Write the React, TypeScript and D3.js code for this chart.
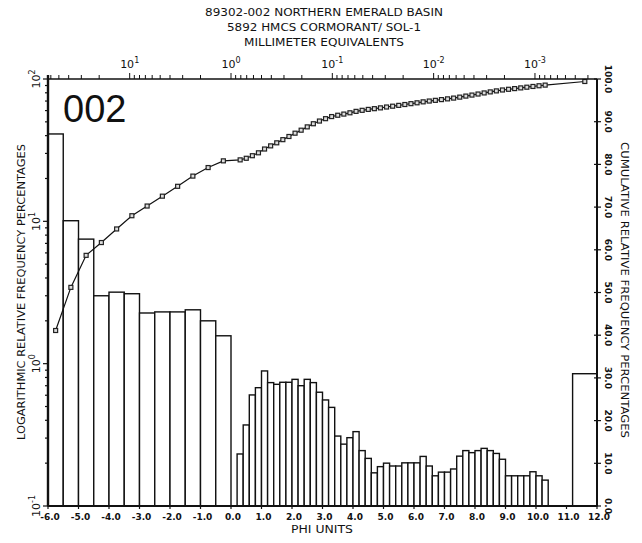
import { useEffect, useRef } from "react";
import * as d3 from "d3";

// grain size classes (phi) and weight percentages
const coarseLower = [-6.0, -5.5, -5.0, -4.5, -4.0, -3.5, -3.0, -2.5, -2.0, -1.5, -1.0, -0.5];
const coarseFreq = [41.1, 10.1, 7.5, 3.0, 3.18, 3.1, 2.27, 2.31, 2.31, 2.39, 2.0, 1.57];

const fineFreq = [
    0.232, 0.371, 0.603, 0.678, 0.889, 0.736, 0.716, 0.74, 0.74, 0.776,
    0.7, 0.776, 0.736, 0.63, 0.556, 0.493, 0.31, 0.272, 0.302, 0.333,
    0.245, 0.216, 0.171, 0.189, 0.2, 0.191, 0.191, 0.201, 0.201, 0.201,
    0.223, 0.191, 0.163, 0.173, 0.173, 0.182, 0.224, 0.245, 0.237, 0.245,
    0.254, 0.245, 0.234, 0.213, 0.163, 0.163, 0.163, 0.163, 0.174, 0.163,
    0.152,
];
const fineStart = 0.2;
const fineWidth = 0.2;

const clayBin = [11.2, 12.0];
const clayFreq = 0.85;

const phiTicks = [-6, -5, -4, -3, -2, -1, 0, 1, 2, 3, 4, 5, 6, 7, 8, 9, 10, 11, 12];
const logDecades = [0.1, 1, 10, 100];
const cumTicks = [0, 10, 20, 30, 40, 50, 60, 70, 80, 90, 100];
const mmDecades = [10, 1, 0.1, 0.01, 0.001];

const titleLines = [
    "89302-002 NORTHERN EMERALD BASIN",
    "5892 HMCS CORMORANT/ SOL-1",
    "MILLIMETER EQUIVALENTS",
];

const W = 642;
const H = 543;
const plotFont = "'DejaVu Sans', sans-serif";

function App() {
    const svgRef = useRef<SVGSVGElement>(null);

    useEffect(() => {
        const svg = d3.select(svgRef.current);
        svg.selectAll("*").remove();

        const margin = { top: 79, right: 45, bottom: 37, left: 48 };
        const x0 = margin.left;
        const x1 = W - margin.right;
        const yTop = margin.top;
        const yBot = H - margin.bottom;

        const x = d3.scaleLinear().domain([-6, 12]).range([x0, x1]);
        const yLog = d3.scaleLog().domain([0.1, 100]).range([yBot, yTop]);
        const yCum = d3.scaleLinear().domain([0, 100]).range([yBot, yTop]);
        // millimeter = 2^-phi
        const xmm = d3.scaleLog().domain([Math.pow(2, 6), Math.pow(2, -12)]).range([x0, x1]);

        const bins = [
            ...coarseLower.map((lo, i) => ({ lo, hi: lo + 0.5, v: coarseFreq[i] })),
            ...fineFreq.map((v, i) => {
                const lo = +(fineStart + i * fineWidth).toFixed(2);
                return { lo, hi: +(lo + fineWidth).toFixed(2), v };
            }),
            { lo: clayBin[0], hi: clayBin[1], v: clayFreq },
        ];
        const cum = d3.cumsum(bins, (d) => d.v);

        // bars
        svg.append("g")
            .selectAll("rect")
            .data(bins)
            .join("rect")
            .attr("x", (d) => x(d.lo))
            .attr("width", (d) => x(d.hi) - x(d.lo))
            .attr("y", (d) => yLog(d.v))
            .attr("height", (d) => yBot - yLog(d.v))
            .attr("fill", "#fff")
            .attr("stroke", "#111")
            .attr("stroke-width", 1.4);

        // cumulative curve
        const pts = bins.map((d, i) => [x((d.lo + d.hi) / 2), yCum(cum[i])] as [number, number]);
        svg.append("path")
            .attr("d", d3.line()(pts))
            .attr("fill", "none")
            .attr("stroke", "#111")
            .attr("stroke-width", 1.2);
        svg.append("g")
            .selectAll("rect")
            .data(pts)
            .join("rect")
            .attr("x", (p) => p[0] - 2)
            .attr("y", (p) => p[1] - 2)
            .attr("width", 4)
            .attr("height", 4)
            .attr("fill", "#ddd")
            .attr("stroke", "#222")
            .attr("stroke-width", 1.2);

        // frame
        const frame = svg.append("g").attr("stroke", "#111").attr("fill", "none");
        frame.append("line").attr("x1", x0).attr("x2", x0).attr("y1", yTop - 4).attr("y2", yBot).attr("stroke-width", 2.4);
        frame.append("line").attr("x1", x0).attr("x2", x1).attr("y1", yBot).attr("y2", yBot).attr("stroke-width", 2.2);
        frame.append("line").attr("x1", x0).attr("x2", x1).attr("y1", yTop).attr("y2", yTop).attr("stroke-width", 1.6);
        frame.append("line").attr("x1", x1).attr("x2", x1).attr("y1", yTop).attr("y2", yBot).attr("stroke-width", 2);

        // left log axis ticks
        const minorLog = d3.range(0, 3).flatMap((k) =>
            d3.range(2, 10).map((m) => m * Math.pow(10, k - 1))
        );
        frame.selectAll(".ltick")
            .data([...logDecades, ...minorLog])
            .join("line")
            .attr("x1", x0)
            .attr("x2", (d) => (logDecades.includes(d) ? x0 - 5 : x0 - 3))
            .attr("y1", (d) => yLog(d))
            .attr("y2", (d) => yLog(d))
            .attr("stroke-width", 1.2);

        // top mm ticks
        const mmTicks = d3.range(-4, 2).flatMap((k) =>
            d3.range(1, 10).map((m) => m * Math.pow(10, k))
        ).filter((v) => v <= 64 && v >= Math.pow(2, -12));
        frame.selectAll(".ttick")
            .data(mmTicks)
            .join("line")
            .attr("x1", (d) => xmm(d))
            .attr("x2", (d) => xmm(d))
            .attr("y1", yTop)
            .attr("y2", (d) => (mmDecades.includes(+d.toPrecision(3)) ? yTop - 6 : yTop - 4))
            .attr("stroke-width", 1);

        // right cumulative ticks
        frame.selectAll(".rtick")
            .data(cumTicks)
            .join("line")
            .attr("x1", x1 - 3)
            .attr("x2", x1 + 4)
            .attr("y1", (d) => yCum(d))
            .attr("y2", (d) => yCum(d))
            .attr("stroke-width", 1.2);

        // bottom phi ticks
        frame.selectAll(".btick")
            .data(phiTicks)
            .join("line")
            .attr("x1", (d) => x(d))
            .attr("x2", (d) => x(d))
            .attr("y1", yBot)
            .attr("y2", yBot + 3)
            .attr("stroke-width", 1.2);

        const txt = svg.append("g").attr("fill", "#111").style("font-family", plotFont);

        // title
        const titleY = [16, 31, 46];
        const titleLen = [238, 194, 160];
        titleLines.forEach((t, i) => {
            txt.append("text")
                .attr("x", 324)
                .attr("y", titleY[i])
                .attr("text-anchor", "middle")
                .attr("font-size", 10.5)
                .attr("textLength", titleLen[i])
                .attr("lengthAdjust", "spacingAndGlyphs")
                .text(t);
        });

        // top mm labels
        mmDecades.forEach((v) => {
            const t = txt.append("text")
                .attr("x", xmm(v))
                .attr("y", 68)
                .attr("text-anchor", "middle")
                .attr("font-size", 11);
            t.append("tspan").text("10");
            t.append("tspan")
                .attr("dy", -5)
                .attr("font-size", 8)
                .text(String(Math.round(Math.log10(v))));
        });

        // bottom phi labels
        txt.selectAll(".blab")
            .data(phiTicks)
            .join("text")
            .attr("x", (d) => x(d) + 2)
            .attr("y", yBot + 14)
            .attr("text-anchor", "middle")
            .attr("font-size", 9)
            .attr("font-weight", "bold")
            .text((d) => d.toFixed(1));
        txt.append("text")
            .attr("x", 322)
            .attr("y", yBot + 27)
            .attr("text-anchor", "middle")
            .attr("font-size", 10.5)
            .attr("textLength", 62)
            .attr("lengthAdjust", "spacingAndGlyphs")
            .text("PHI UNITS");

        // left log labels
        logDecades.forEach((v) => {
            const t = txt.append("text")
                .attr("transform", `translate(${x0 - 8},${yLog(v)}) rotate(-90)`)
                .attr("text-anchor", "middle")
                .attr("font-size", 11);
            t.append("tspan").text("10");
            t.append("tspan")
                .attr("dy", -5)
                .attr("font-size", 8)
                .text(String(Math.round(Math.log10(v))));
        });
        txt.append("text")
            .attr("transform", `translate(25,292) rotate(-90)`)
            .attr("text-anchor", "middle")
            .attr("font-size", 10.5)
            .attr("textLength", 296)
            .attr("lengthAdjust", "spacingAndGlyphs")
            .text("LOGARITHMIC RELATIVE FREQUENCY PERCENTAGES");

        // right cumulative labels
        txt.selectAll(".rlab")
            .data(cumTicks)
            .join("text")
            .attr("transform", (d) => `translate(${x1 + 8},${yCum(d)}) rotate(90)`)
            .attr("text-anchor", "middle")
            .attr("font-size", 9)
            .attr("font-weight", "bold")
            .text((d) => d.toFixed(1));
        txt.append("text")
            .attr("transform", `translate(621,290) rotate(90)`)
            .attr("text-anchor", "middle")
            .attr("font-size", 10.5)
            .attr("textLength", 296)
            .attr("lengthAdjust", "spacingAndGlyphs")
            .text("CUMULATIVE RELATIVE FREQUENCY PERCENTAGES");

        // sample label
        txt.append("text")
            .attr("x", 63)
            .attr("y", 122)
            .attr("font-size", 38)
            .style("font-family", "'Liberation Sans', Arial, sans-serif")
            .text("002");
    }, []);

    return (
        <svg
            ref={svgRef}
            width={W}
            height={H}
            style={{ position: "absolute", left: 0, top: 0, background: "#fff" }}
        ></svg>
    );
}

export default App;
